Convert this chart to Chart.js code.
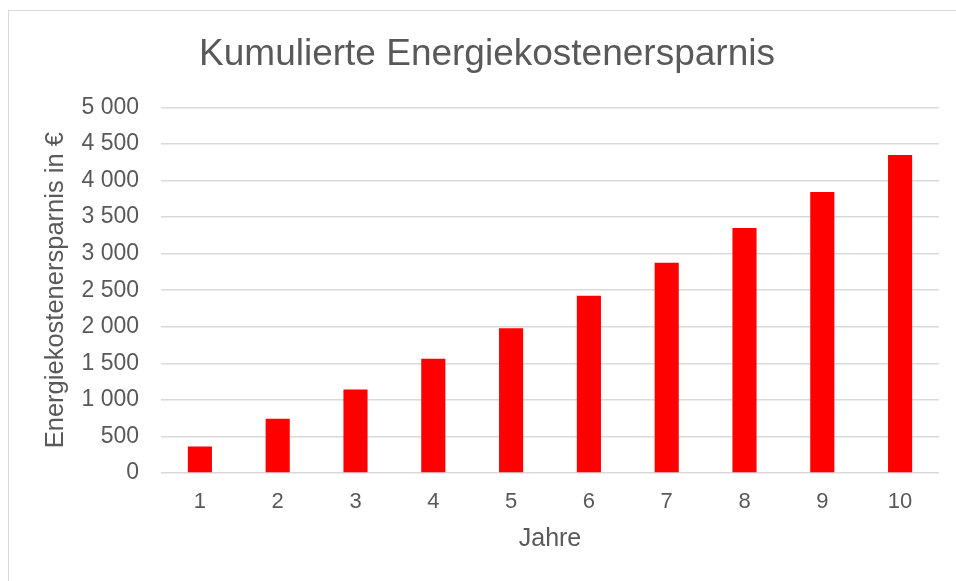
<!DOCTYPE html>
<html>
<head>
<meta charset="utf-8">
<script src="https://cdn.jsdelivr.net/npm/chart.js@4/dist/chart.umd.min.js"></script>
<style>
  html, body { margin: 0; padding: 0; background: #fff; }
  #wrap { position: relative; width: 956px; height: 581px; overflow: hidden; }
  #frame { position: absolute; left: 8px; top: 10px; width: 1000px; height: 700px; border: 1px solid #d9d9d9; }
  canvas { position: absolute; left: 0; top: 0; }
</style>
</head>
<body>
<div id="wrap">
  <div id="frame"></div>
  <canvas id="chart" width="956" height="581"></canvas>
</div>
<script>
const chartTitle = 'Kumulierte Energiekostenersparnis';
const xTitle = 'Jahre';
const yTitle = 'Energiekostenersparnis in €';
const years = ['1', '2', '3', '4', '5', '6', '7', '8', '9', '10'];
const savings = [364, 742, 1142, 1561, 1979, 2425, 2875, 3352, 3843, 4348];
const yMax = 5000;
const yStep = 500;

const grey = '#595959';
const font = 'Liberation Sans, Arial, sans-serif';

// 5000 -> "5 000"
const fmt = v => String(v).replace(/\B(?=(\d{3})+(?!\d))/g, ' ');

new Chart(document.getElementById('chart'), {
  type: 'bar',
  data: {
    labels: years,
    datasets: [{
      data: savings,
      backgroundColor: '#ff0000',
      barPercentage: 0.31,
      categoryPercentage: 1
    }]
  },
  options: {
    responsive: false,
    animation: false,
    layout: { padding: { left: 35, right: 17, top: 0, bottom: 0 } },
    plugins: {
      legend: { display: false },
      tooltip: { enabled: false },
      title: {
        display: true,
        text: chartTitle,
        color: grey,
        font: { family: font, size: 37, weight: 'normal' },
        padding: { top: 33, bottom: 30 }
      }
    },
    scales: {
      x: {
        grid: { display: false, drawTicks: false },
        border: { display: false },
        ticks: { color: grey, font: { family: font, size: 22 }, padding: 16 },
        title: {
          display: true, text: xTitle, color: grey,
          font: { family: font, size: 25 }, padding: { top: 0, bottom: 27 }
        },
        afterFit: s => { s.height = 108; }
      },
      y: {
        min: 0, max: yMax,
        grid: { color: '#d9d9d9', lineWidth: 1.5, drawTicks: false },
        border: { display: false },
        ticks: { stepSize: yStep, color: grey, font: { family: font, size: 23 }, padding: 22, callback: v => fmt(v) },
        title: {
          display: true, text: yTitle, color: grey,
          font: { family: font, size: 25.5 }, padding: { top: 6, bottom: 0 }
        },
        afterFit: s => { s.width = 126; }
      }
    }
  }
});
</script>
</body>
</html>
